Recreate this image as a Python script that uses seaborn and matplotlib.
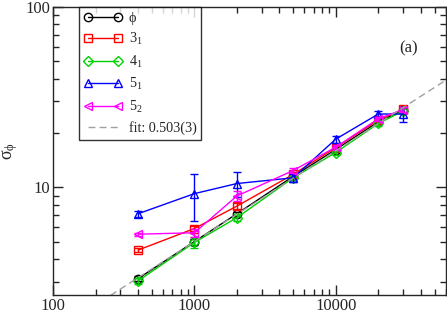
import numpy as np
import pandas as pd
import matplotlib
matplotlib.use("Agg")
import matplotlib.pyplot as plt
import seaborn as sns

# chain lengths
n_vals = [400, 1000, 2000, 5000, 10000, 20000, 30000]

# sigma_phi per knot type, with error bars
phi_y = [3.12, 5.0, 7.14, 11.5, 16.2, 23.1, 26.8]
phi_err = [0.1, 0.2, 0.2, 0.3, 0.4, 0.6, 0.8]
k31_y = [4.49, 5.91, 7.87, 11.8, 16.6, 23.6, 27.1]
k31_err = [0.1, 0.2, 0.3, 0.3, 0.4, 0.6, 0.8]
k41_y = [3.03, 4.95, 6.79, 11.3, 15.6, 22.6, 26.5]
k41_err = [0.1, 0.35, 0.3, 0.3, 0.4, 0.6, 0.8]
k51_y = [7.14, 9.23, 10.5, 11.3, 18.5, 25.5, 25.5]
k51_err = [0.25, 2.7, 1.7, 0.6, 0.8, 1.0, 2.5]
k52_y = [5.5, 5.6, 8.96, 12.4, 16.7, 24.0, 27.0]
k52_err = [0.1, 0.3, 0.6, 0.4, 0.5, 0.7, 0.9]

labels = ["ϕ", r"3$_1$", r"4$_1$", r"5$_1$", r"5$_2$"]
colors = ["black", "#ff0000", "#00d000", "#0000ff", "#ff00ff"]
markers = ["o", "s", "D", "^", "<"]
msizes = [6, 6, 5, 6, 6]

fit_amp = 0.155
fit_exp = 0.503
fit_x = [255, 60000]

sns.set_style("ticks")
plt.rcParams["font.family"] = ["Liberation Serif", "DejaVu Serif"]
plt.rcParams["mathtext.fontset"] = "stix"
plt.rcParams["mathtext.default"] = "regular"

fig = plt.figure(figsize=(4.47, 3.13), dpi=100)
ax = fig.add_axes([0.1186, 0.0575, 0.8792, 0.9201])

series = [(phi_y, phi_err), (k31_y, k31_err), (k41_y, k41_err), (k51_y, k51_err), (k52_y, k52_err)]
for (ys, es), lab, c, m, ms in zip(series, labels, colors, markers, msizes):
    df = pd.DataFrame({"N": n_vals, "sigma": ys})
    ax.errorbar(n_vals, ys, yerr=es, fmt="none", ecolor=c, elinewidth=1, capsize=3, capthick=1)
    sns.lineplot(data=df, x="N", y="sigma", ax=ax, color=c, marker=m, markersize=ms,
                 markerfacecolor="none", markeredgecolor=c, markeredgewidth=1,
                 linewidth=1, label=lab)

fit_y = [fit_amp * x ** fit_exp for x in fit_x]
ax.plot(fit_x, fit_y, ls="--", color="#a0a0a0", lw=1, dashes=(5, 3),
        label="fit: 0.503(3)")

ax.set_xscale("log")
ax.set_yscale("log")
ax.set_xlim(100, 60300)
ax.set_ylim(2.53, 100)
ax.set_xticks([100, 1000, 10000])
ax.set_xticklabels(["100", "1000", "10000"])
ax.set_yticks([10, 100])
ax.set_yticklabels(["10", "100"])
ax.tick_params(which="both", direction="in", top=True, right=True, labelsize=12, width=1)
ax.tick_params(which="major", length=7)
ax.tick_params(which="minor", length=4)
ax.tick_params(axis="x", pad=2)
ax.tick_params(axis="y", pad=2)
for s in ax.spines.values():
    s.set_linewidth(1)
ax.set_xlabel("")
ax.set_ylabel("σ$_ϕ$", fontsize=13)
ax.yaxis.set_label_coords(-0.083, 0.5)

ax.text(0.905, 0.855, "(a)", transform=ax.transAxes, fontsize=12, ha="center", va="center")

leg = ax.legend(loc="upper left", bbox_to_anchor=(0.066, 1.0), borderaxespad=0,
                fontsize=10.2, numpoints=2, handlelength=2.7, frameon=True, fancybox=False,
                labelspacing=0.45, handletextpad=0.45, borderpad=0.35)
leg.get_frame().set_edgecolor("black")
leg.get_frame().set_linewidth(1)

fig.savefig("out.png", dpi=100)
